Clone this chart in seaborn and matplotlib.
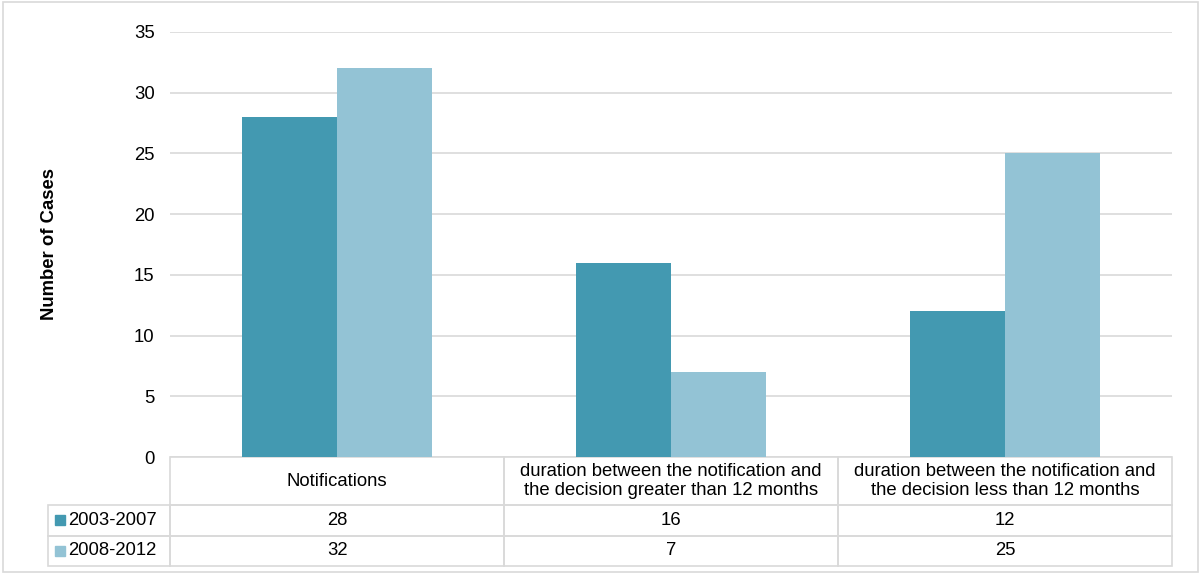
import matplotlib.pyplot as plt
import matplotlib.patches as mpatches
import seaborn as sns
import pandas as pd

categories = ["Notifications",
              "duration between the notification and\nthe decision greater than 12 months",
              "duration between the notification and\nthe decision less than 12 months"]
periods = ["2003-2007", "2008-2012"]
values_2003_2007 = [28, 16, 12]
values_2008_2012 = [32, 7, 25]
colors = ["#4399B1", "#93C3D5"]
yticks = [0, 5, 10, 15, 20, 25, 30, 35]

df = pd.DataFrame({
    "category": categories * 2,
    "period": [periods[0]] * 3 + [periods[1]] * 3,
    "value": values_2003_2007 + values_2008_2012,
})

sns.set_style("white")
plt.rcParams['font.family'] = ['Liberation Sans', 'DejaVu Sans']
plt.rcParams['text.color'] = '#000000'
FS = 13.3

fig = plt.figure(figsize=(12.01, 5.75), dpi=100)
ax = fig.add_axes([170 / 1201, 118 / 575, 1002 / 1201, 425 / 575])

sns.barplot(data=df, x="category", y="value", hue="period", order=categories,
            hue_order=periods, palette=colors, saturation=1, width=0.57, gap=0,
            linewidth=0, legend=False, ax=ax)

ax.set_ylim(0, 35)
ax.set_xlim(-0.5, 2.5)
ax.set_yticks(yticks)
ax.tick_params(axis='y', labelsize=FS, length=0, pad=11, colors='#000000')
ax.set_xticks([])
ax.set_xlabel("")
ax.set_ylabel("Number of Cases", fontsize=FS, fontweight='bold', labelpad=55,
              color='#000000')
ax.yaxis.grid(True, color='#D9D9D9', linewidth=1.2)
ax.set_axisbelow(True)
for s in ax.spines.values():
    s.set_visible(False)

# data table below the axis (first column holds the series names)
lab_w = 122 / 1002
cell_text = [[periods[0]] + [str(v) for v in values_2003_2007],
             [periods[1]] + [str(v) for v in values_2008_2012]]
tbl = ax.table(cellText=cell_text, colLabels=[""] + categories, cellLoc='center',
               colWidths=[lab_w, 1 / 3, 1 / 3, 1 / 3],
               bbox=[-lab_w, -109 / 425, 1 + lab_w, 109 / 425])
tbl.auto_set_font_size(False)
for (r, c), cell in tbl.get_celld().items():
    cell.set_edgecolor('#D9D9D9')
    cell.set_linewidth(1.2)
    cell.set_facecolor('none')
    cell.get_text().set_fontsize(FS)
    cell.get_text().set_color('#000000')
    cell.set_height(48 / 425 if r == 0 else 30.5 / 425)
    if c == 0:
        if r == 0:
            cell.visible_edges = ''
        else:
            cell._loc = 'left'
            cell.get_text().set_horizontalalignment('left')
            cell.PAD = 20 / 122

# legend keys in the series name cells
for i, col in enumerate(colors):
    yc = -(48 + 30.5 * i + 15.25) / 425
    ax.plot([-lab_w + 12 / 1002], [yc], marker='s', markersize=7, color=col,
            transform=ax.transAxes, clip_on=False, linestyle='none')

# outer frame
fig.patches.append(mpatches.Rectangle((3 / 1201, 3 / 575), 1195 / 1201, 570 / 575,
                                      transform=fig.transFigure, fill=False,
                                      edgecolor='#D9D9D9', linewidth=1.2))

fig.savefig("out.png", dpi=100)
